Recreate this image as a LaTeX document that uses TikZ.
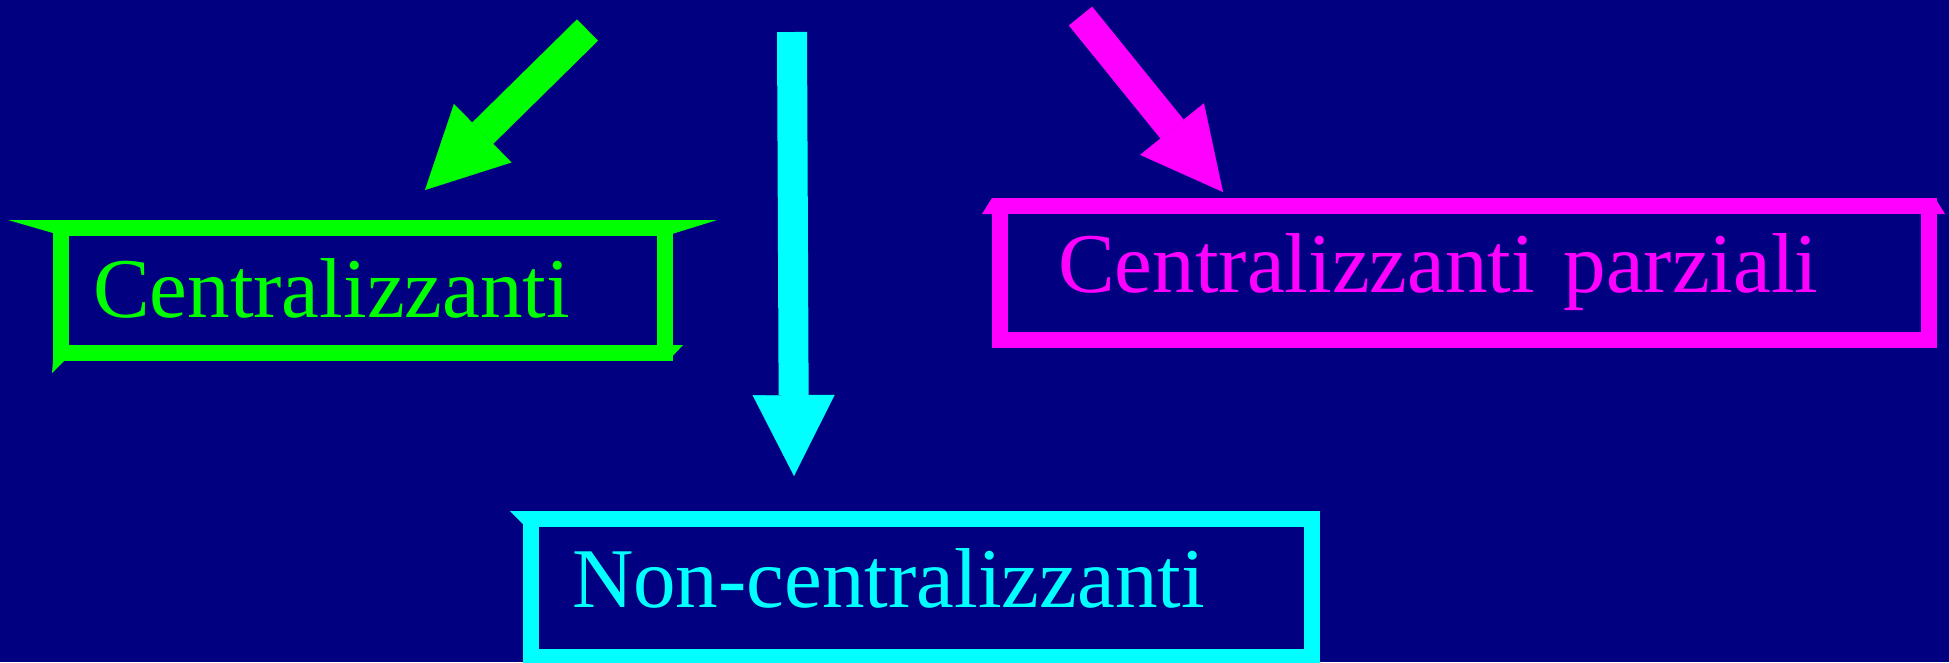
\documentclass[tikz,border=0pt]{standalone}
\usepackage{fontspec}
\setmainfont{Liberation Serif}
\usetikzlibrary{arrows.meta}
\definecolor{bgnavy}{HTML}{000080}
\definecolor{mygreen}{HTML}{00FF00}
\definecolor{mycyan}{HTML}{00FFFF}
\definecolor{mymagenta}{HTML}{FF00FF}

\begin{document}
\begin{tikzpicture}[x=0.1mm, y=-0.1mm,
    catbox/.style={draw=#1, text=#1, line width=1.6mm, align=left,
      text height=6.375mm, font=\fontsize{24.2pt}{29pt}\selectfont},
    bigarrow/.style={draw=#1, line width=3mm,
      -{Triangle[width=8.2mm,length=8.1mm,line width=0.1pt]}}]
  %% background
  \fill[bgnavy] (0,0) rectangle (1949,662);
  \useasboundingbox (0,0) rectangle (1949,662);

  %% the three boxes
  \node[catbox=mygreen, minimum width=60.35mm, minimum height=12.5mm,
    inner xsep=3.2mm, text width=53.95mm, text depth=1.07mm] (cent) at (362.75,290.5) {Centralizzanti};
  \node[catbox=mymagenta, minimum width=92.9mm, minimum height=13.4mm,
    inner xsep=5.8mm, text width=81.3mm, text depth=2.38mm] (parz) at (1464.5,273) {Centralizzanti parziali};
  \node[catbox=mycyan, minimum width=78.1mm, minimum height=13.85mm,
    inner xsep=4.1mm, text width=69.9mm, text depth=2.38mm] (noncent) at (921.5,587.75) {Non-centralizzanti};

  %% little bevel corners of the frames
  \fill[mygreen] (8,220) -- (53,220) -- (53,233) -- cycle;
  \fill[mygreen] (672,220) -- (717,220) -- (672,234) -- cycle;
  \fill[mygreen] (53,361) -- (52,373) -- (64,361) -- cycle;
  \fill[mygreen] (664,345) -- (683,345) -- (668,361) -- cycle;
  \fill[mymagenta] (982,214) -- (992,198) -- (1000,214) -- cycle;
  \fill[mymagenta] (1929,198) -- (1935,198) -- (1945,214) -- (1929,214) -- cycle;
  \fill[mycyan] (510,511) -- (523,511) -- (523,524) -- cycle;

  %% arrows
  \coordinate (gstart) at (587.5,30);
  \coordinate (gtip) at (425,190);
  \coordinate (cstart) at (792,32);
  \coordinate (ctip) at (794,476);
  \coordinate (mstart) at (1080.5,16);
  \coordinate (mtip) at (1223,192);
  \draw[bigarrow=mygreen] (gstart) -- (gtip);
  \draw[bigarrow=mycyan] (cstart) -- (ctip);
  \draw[bigarrow=mymagenta] (mstart) -- (mtip);
\end{tikzpicture}
\end{document}
